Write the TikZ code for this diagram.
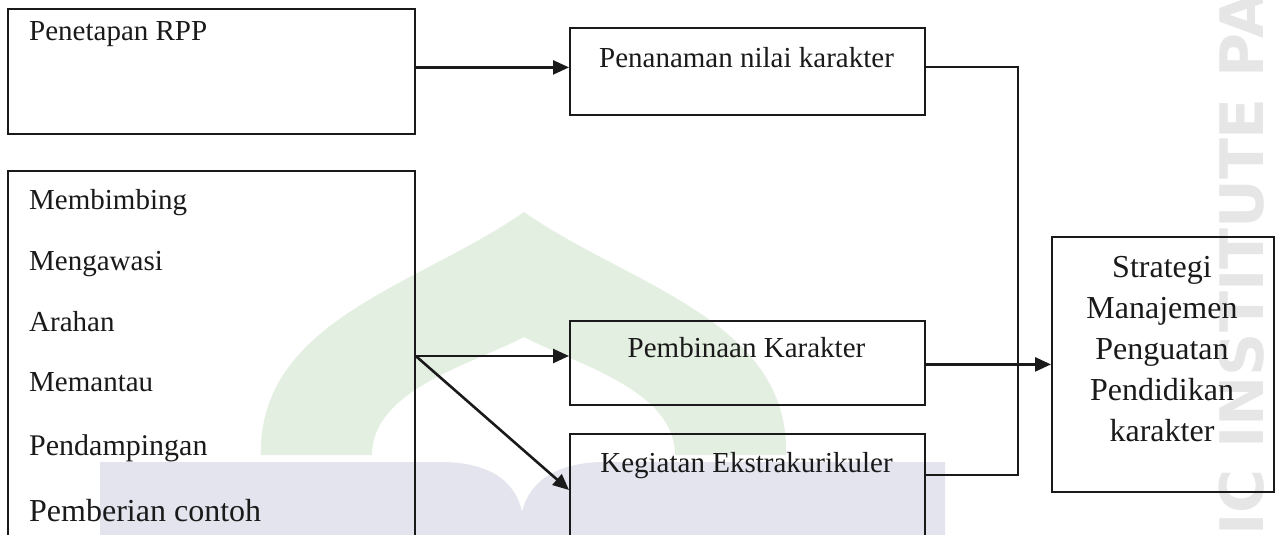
\documentclass[tikz,border=0pt]{standalone}
\usepackage{fontspec}
\setmainfont{Liberation Serif}
\newfontfamily\wmfont{DejaVu Sans}
\usetikzlibrary{arrows.meta,calc}

\definecolor{ink}{HTML}{1A1A1A}
\definecolor{domegreen}{HTML}{E3EFE0}
\definecolor{bandblue}{HTML}{E3E4EE}
\definecolor{wmgray}{HTML}{E6E6E6}

\tikzset{
  box/.style={draw=ink, line width=1.8pt, rectangle, inner sep=0pt, anchor=north west},
  lbl/.style={font=\fontsize{29}{34}\selectfont, text=ink, inner sep=0pt},
  biglbl/.style={lbl, font=\fontsize{32}{38}\selectfont},
  arr/.style={draw=ink, line width=2.6pt, -{Triangle[length=16pt,width=14pt]}},
  wire/.style={draw=ink, line width=1.8pt},
  wm/.style={font=\wmfont\bfseries\fontsize{60}{62}\selectfont, text=wmgray, inner sep=0pt},
}

\begin{document}
\begin{tikzpicture}[x=1pt,y=-1pt]
\useasboundingbox (0,0) rectangle (1283,535);
\clip (0,0) rectangle (1283,535);
\fill[white] (0,0) rectangle (1283,535);

% faint background emblem
\fill[domegreen] (261,455) .. controls (258,320) and (420,285) .. (524,212)
  .. controls (628,285) and (790,320) .. (786,455) -- (675,455)
  .. controls (675,390) and (578,365) .. (524,337)
  .. controls (470,365) and (372,390) .. (372,455) -- cycle;
\fill[bandblue] (100,535) -- (100,462) -- (440,462)
  .. controls (485,462) and (515,478) .. (522,512)
  .. controls (530,478) and (562,462) .. (605,462)
  -- (945,462) -- (945,535) -- cycle;
\node[wm, rotate=90, anchor=base west] (wmark) at (1263,536) {IC INSTITUTE PA};

% boxes
\node[box, minimum width=407pt, minimum height=125pt] (A) at (7,8) {};
\node[box, minimum width=407pt, minimum height=430pt] (B) at (7,170) {};
\node[box, minimum width=355pt, minimum height=87pt] (C) at (569,27) {};
\node[box, minimum width=355pt, minimum height=84pt] (D) at (569,320) {};
\node[box, minimum width=355pt, minimum height=200pt] (E) at (569,433) {};
\node[box, minimum width=222pt, minimum height=255pt] (F) at (1051,236) {};

% texts
\node[lbl, anchor=base west] (tA) at (29,41) {Penetapan RPP};
\node[lbl, anchor=base west] (b1) at (29,209) {Membimbing};
\node[lbl, anchor=base west] (b2) at (29,270) {Mengawasi};
\node[lbl, anchor=base west] (b3) at (29,331) {Arahan};
\node[lbl, anchor=base west] (b4) at (29,391) {Memantau};
\node[lbl, font=\fontsize{30}{36}\selectfont, anchor=base west] (b5) at (29,455) {Pendampingan};
\node[biglbl, anchor=base west] (b6) at (29,521) {Pemberian contoh};

\node[lbl, anchor=base] (tC) at (746.5,67) {Penanaman nilai karakter};
\node[lbl, anchor=base] (tD) at (746.5,357) {Pembinaan Karakter};
\node[lbl, anchor=base] (tE) at (746.5,472) {Kegiatan Ekstrakurikuler};

\node[biglbl, anchor=base] (f1) at (1162,277) {Strategi};
\node[biglbl, anchor=base] (f2) at (1162,318) {Manajemen};
\node[biglbl, anchor=base] (f3) at (1162,359) {Penguatan};
\node[biglbl, anchor=base] (f4) at (1162,400) {Pendidikan};
\node[biglbl, anchor=base] (f5) at (1162,441) {karakter};

% connectors
\draw[arr] ([yshift=4pt]A.east) -- ([yshift=4pt]A.east -| C.west);

\coordinate (fork) at ($(B.north east)+(0,186)$);
\coordinate (Ein) at ($(E.north west)+(0,57)$);
\draw[arr] (fork) -- (fork -| D.west);
\draw[arr] (fork) -- (Ein);

\draw[arr] (F.west -| D.east) -- (F.west);

\coordinate (bus) at (1018,0);
\coordinate (Eout) at ($(E.north east)+(0,42)$);
\draw[wire] ([yshift=4pt]C.east) -| (bus |- Eout) -- (Eout);
\end{tikzpicture}
\end{document}
